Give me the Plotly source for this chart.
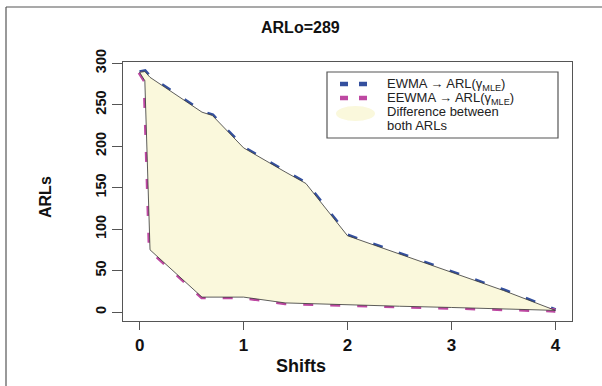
import plotly.graph_objects as go

shifts = [0, 0.05, 0.1, 0.6, 0.7, 1.0, 1.4, 1.6, 2.0, 2.5, 3.0, 3.5, 4.0]
arl_ewma = [289, 290, 283, 241, 237, 198, 169, 155, 92, 70, 48, 26, 2]
arl_eewma = [289, 279, 75, 18, 18, 18, 11, 10.5, 9, 7, 5.5, 4, 2]
x_ticks = [0, 1, 2, 3, 4]
y_ticks = [0, 50, 100, 150, 200, 250, 300]

W, H = 602, 386
L, R, T, B = 123, 572, 62, 321

BLUE = "#34509E"
MAG = "#BE48A2"
FILL = "#FAF8DC"

fig = go.Figure()
fig.add_trace(go.Scatter(x=shifts, y=arl_ewma, mode="lines",
                         line=dict(color=BLUE, width=4.5, dash="10px,17px"),
                         showlegend=False, hoverinfo="skip"))
fig.add_trace(go.Scatter(x=shifts, y=arl_eewma, mode="lines",
                         line=dict(color=MAG, width=4.5, dash="10px,17px"),
                         showlegend=False, hoverinfo="skip"))
poly_x = shifts + shifts[::-1]
poly_y = arl_ewma + arl_eewma[::-1]
fig.add_trace(go.Scatter(x=poly_x, y=poly_y, mode="lines", fill="toself",
                         fillcolor=FILL, line=dict(color="#333333", width=0.8),
                         showlegend=False, hoverinfo="skip"))

def px(xp):
    return (xp - L) / (R - L)
def py(yp):
    return (B - yp) / (B - T)

FONT = "Liberation Sans, Arial"
shapes = []
annotations = []
# outer frame (top and left edges)
shapes.append(dict(type="line", xref="paper", yref="paper", x0=px(6), x1=px(602), y0=py(7), y1=py(7),
                   line=dict(color="#555555", width=1.2)))
shapes.append(dict(type="line", xref="paper", yref="paper", x0=px(6), x1=px(6), y0=py(7), y1=py(386),
                   line=dict(color="#555555", width=1.2)))
# legend box
lx0, ly0, lx1, ly1 = 327, 72, 558, 138
shapes.append(dict(type="rect", xref="paper", yref="paper", x0=px(lx0), x1=px(lx1), y0=py(ly0), y1=py(ly1),
                   line=dict(color="#555555", width=1.2), fillcolor="white"))
# legend symbols
for yy, col in [(84, BLUE), (98, MAG)]:
    for xa, xb in [(340, 348), (359, 367)]:
        shapes.append(dict(type="line", xref="paper", yref="paper", x0=px(xa), x1=px(xb), y0=py(yy), y1=py(yy),
                           line=dict(color=col, width=4.5)))
shapes.append(dict(type="circle", xref="paper", yref="paper", x0=px(336), x1=px(375), y0=py(106), y1=py(121),
                   line=dict(width=0), fillcolor=FILL))
font_leg = dict(family=FONT, size=13, color="#222222")
leg_texts = [
    (84, "EWMA \u2192 ARL(\u03b3<sub>MLE</sub>)"),
    (98, "EEWMA \u2192 ARL(\u03b3<sub>MLE</sub>)"),
    (112, "Difference between"),
    (126, "both ARLs"),
]
for yy, txt in leg_texts:
    annotations.append(dict(xref="paper", yref="paper", x=px(385), y=py(yy), text=txt, showarrow=False,
                            xanchor="left", yanchor="middle", font=font_leg))
# title and axis titles
annotations.append(dict(xref="paper", yref="paper", x=px(300), y=py(27), text="<b>ARLo=289</b>", showarrow=False,
                        xanchor="center", yanchor="middle",
                        font=dict(family=FONT, size=16, color="#111111")))
annotations.append(dict(xref="paper", yref="paper", x=px(301), y=py(366), text="<b>Shifts</b>", showarrow=False,
                        xanchor="center", yanchor="middle",
                        font=dict(family=FONT, size=18, color="#111111")))
annotations.append(dict(xref="paper", yref="paper", x=px(45), y=py(197), text="<b>ARLs</b>", showarrow=False,
                        xanchor="center", yanchor="middle", textangle=-90,
                        font=dict(family=FONT, size=16, color="#111111")))

xtickfont = dict(family=FONT, size=17, color="#111111")
ytickfont = dict(family=FONT, size=14.5, color="#111111")
fig.update_layout(
    width=W, height=H,
    margin=dict(l=L, r=W - R, t=T, b=H - B, pad=0),
    paper_bgcolor="white", plot_bgcolor="white",
    shapes=shapes, annotations=annotations, showlegend=False,
    xaxis=dict(range=[-0.16, 4.16], tickvals=x_ticks, ticktext=[f"<b>{v}</b>" for v in x_ticks],
               ticks="outside", ticklen=8, tickcolor="#555555", tickfont=xtickfont,
               showgrid=False, zeroline=False, showline=True, linecolor="#555555", linewidth=1.3, mirror=True),
    yaxis=dict(range=[-10.8, 301.5], tickvals=y_ticks, ticktext=[f"<b>{v}</b>" for v in y_ticks],
               ticks="outside", ticklen=10, tickcolor="#555555", tickfont=ytickfont, tickangle=-90,
               showgrid=False, zeroline=False, showline=True, linecolor="#555555", linewidth=1.3, mirror=True),
)
fig.write_html("out.html", config={"displayModeBar": False},
               post_script="document.body.style.margin='0';document.body.style.overflow='hidden';")
